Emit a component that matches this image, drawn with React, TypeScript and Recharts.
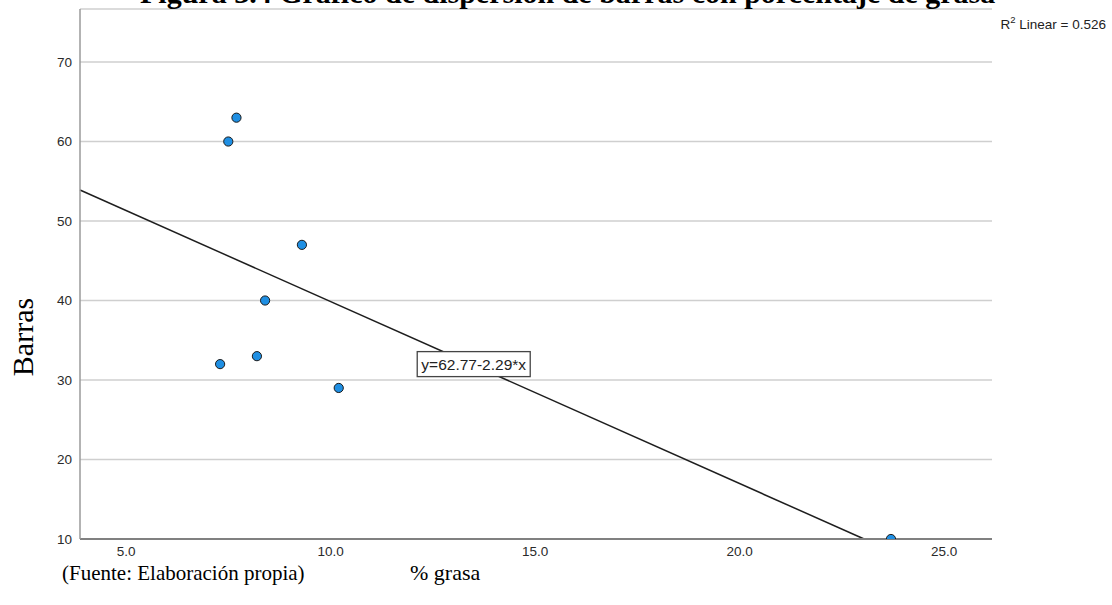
import React from 'react';
import {
  ScatterChart,
  Scatter,
  XAxis,
  YAxis,
  CartesianGrid,
  ReferenceLine,
  ReferenceDot,
} from 'recharts';

// ---- data ----
const grasaValues = [7.7, 7.5, 9.3, 8.4, 8.2, 7.3, 10.2, 23.7];
const barrasValues = [63, 60, 47, 40, 33, 32, 29, 10];
const xTicks = [5, 10, 15, 20, 25];
const yTicks = [10, 20, 30, 40, 50, 60, 70];
const xDomain: [number, number] = [3.875, 26.17];
const yDomain: [number, number] = [10, 76.67];
const fitIntercept = 62.77;
const fitSlope = -2.29;
const r2Value = '0.526';
const equationText = 'y=62.77-2.29*x';
const equationAnchor = { x: 13.5, y: 32 };

const data = grasaValues.map((x, i) => ({ x, y: barrasValues[i] }));

const fitStart = { x: xDomain[0], y: fitIntercept + fitSlope * xDomain[0] };
const fitEnd = { x: (yDomain[0] - fitIntercept) / fitSlope, y: yDomain[0] };

const W = 1112;
const H = 605;

const Dot = (props: any) => {
  const { cx, cy } = props;
  if (cx == null || cy == null) return null;
  return <circle cx={cx} cy={cy} r={4.6} fill="#1f8fe3" stroke="#1a1a1a" strokeWidth={1} />;
};

const EquationBox = (props: any) => {
  const { cx, cy } = props;
  if (cx == null || cy == null) return null;
  const w = 113;
  const h = 25;
  return (
    <g>
      <rect x={cx - w / 2} y={cy - h / 2} width={w} height={h} fill="#ffffff" stroke="#444" strokeWidth={1.3} />
      <text
        x={cx}
        y={cy + 5.5}
        textAnchor="middle"
        fontFamily="'Liberation Sans', Arial, sans-serif"
        fontSize={15.5}
        fill="#222"
      >
        {equationText}
      </text>
    </g>
  );
};

export default function App() {
  return (
    <div style={{ position: 'absolute', left: 0, top: 0, width: W, height: H, background: '#ffffff', overflow: 'hidden' }}>
      <ScatterChart
        width={W}
        height={H}
        margin={{ top: 9, right: 120, left: 20, bottom: 36 }}
        style={{ fontFamily: "'Liberation Sans', Arial, sans-serif" }}
      >
        <CartesianGrid horizontal vertical={false} stroke="#cfcfcf" strokeWidth={1.3} />
        <XAxis
          type="number"
          dataKey="x"
          domain={xDomain}
          ticks={xTicks}
          allowDataOverflow
          tickFormatter={(v: number) => v.toFixed(1)}
          tickLine={false}
          tickSize={0}
          tickMargin={7}
          height={30}
          axisLine={{ stroke: '#808080', strokeWidth: 2 }}
          tick={{ fill: '#2a2a2a', fontSize: 13.5 }}
        />
        <YAxis
          type="number"
          dataKey="y"
          domain={yDomain}
          ticks={yTicks}
          allowDataOverflow
          tickLine={false}
          tickSize={0}
          tickMargin={8}
          width={60}
          axisLine={{ stroke: '#9a9a9a', strokeWidth: 1.5 }}
          tick={{ fill: '#2a2a2a', fontSize: 13.5 }}
        />
        <ReferenceLine
          segment={[fitStart, fitEnd]}
          stroke="#1e1e1e"
          strokeWidth={1.5}
          ifOverflow="visible"
        />
        <ReferenceDot x={equationAnchor.x} y={equationAnchor.y} shape={EquationBox} ifOverflow="visible" />
        <Scatter data={data} shape={Dot} isAnimationActive={false} />
      </ScatterChart>
      <svg
        width={W}
        height={H}
        style={{ position: 'absolute', left: 0, top: 0, pointerEvents: 'none' }}
      >
        <text
          x={140}
          y={3}
          fontFamily="'Liberation Serif', 'Times New Roman', serif"
          fontWeight="bold"
          fontSize={30}
          fill="#000"
        >
          Figura 3.4 Gráfico de dispersión de barras con porcentaje de grasa
        </text>
        <text
          x={1106}
          y={29}
          textAnchor="end"
          fontFamily="'Liberation Sans', Arial, sans-serif"
          fontSize={13.5}
          fill="#222"
        >
          R<tspan dy={-6} fontSize={9.5}>2</tspan>
          <tspan dy={6}> Linear = {r2Value}</tspan>
        </text>
        <text
          transform="translate(33,337) rotate(-90)"
          textAnchor="middle"
          fontFamily="'Liberation Serif', 'Times New Roman', serif"
          fontSize={30}
          fill="#000"
        >
          Barras
        </text>
        <text
          x={62}
          y={580}
          fontFamily="'Liberation Serif', 'Times New Roman', serif"
          fontSize={21}
          fill="#000"
        >
          (Fuente: Elaboración propia)
        </text>
        <text
          x={410}
          y={580}
          fontFamily="'Liberation Serif', 'Times New Roman', serif"
          fontSize={22}
          fill="#000"
        >
          % grasa
        </text>
      </svg>
    </div>
  );
}
